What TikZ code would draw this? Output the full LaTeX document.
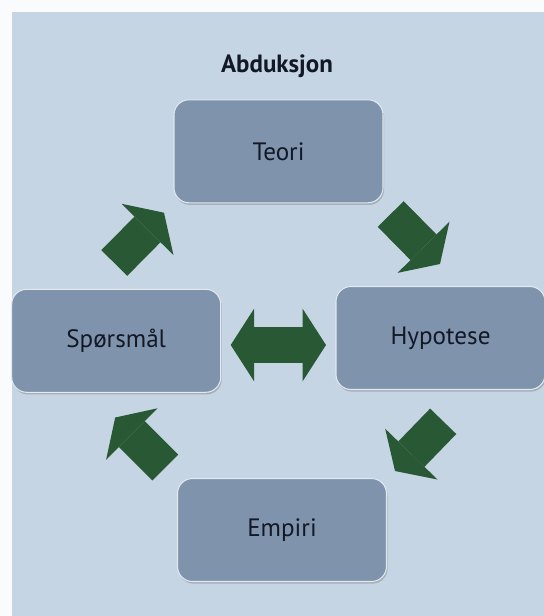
\documentclass[tikz,border=0pt]{standalone}
\usepackage{fontspec}
\setmainfont{PT Sans}
\usetikzlibrary{arrows.meta,shadows}

\definecolor{pagewhite}{RGB}{250,251,252}
\definecolor{paperblue}{RGB}{198,213,228}
\definecolor{boxblue}{RGB}{127,148,172}
\definecolor{boxedge}{RGB}{224,232,240}
\definecolor{arrowgreen}{RGB}{40,88,52}
\definecolor{inkblue}{RGB}{18,24,38}

\tikzset{
  stage/.style={draw=boxedge, line width=0.6pt, fill=boxblue, rounded corners=0.3cm,
    minimum width=4.18cm, minimum height=2.06cm, text=inkblue,
    font=\fontsize{14.3}{16}\selectfont,
    drop shadow={shadow xshift=0.6pt, shadow yshift=-1.2pt, opacity=0.45}},
  flow/.style={draw=arrowgreen, line width=0.73cm,
    -{Triangle[length=0.47cm,width=1.46cm,line width=0pt]}},
  twoway/.style={draw=arrowgreen, line width=0.73cm,
    {Triangle[length=0.47cm,width=1.46cm,line width=0pt]}-{Triangle[length=0.47cm,width=1.46cm,line width=0pt]}}
}

\begin{document}
\begin{tikzpicture}[x=0.02cm,y=-0.02cm]
% Page and the blue panel
\useasboundingbox (0,0) rectangle (544,616);
\fill[pagewhite] (0,0) rectangle (544,616);
\fill[paperblue] (12,11.5) rectangle (544,616);

% Title
\node[anchor=base, font=\fontsize{14.2}{16}\selectfont\bfseries, text=inkblue] (title) at (277,72.7) {Abduksjon};

% The four stages
\node[stage] (teori) at (278.5,151.3) {Teori};
\node[stage] (sporsmal) at (116.2,340.8) {Spørsmål};
\node[stage] (hypotese) at (440.5,338) {Hypotese};
\node[stage] (empiri) at (282,530) {Empiri};

% Ends of the arrows
\coordinate (s2t-tail) at (114.3,263);
\coordinate (s2t-tip) at (164,212.7);
\coordinate (t2h-tail) at (390.7,214);
\coordinate (t2h-tip) at (440,264);
\coordinate (h2e-tail) at (443.2,421.3);
\coordinate (h2e-tip) at (395,471);
\coordinate (e2s-tail) at (165.3,467.5);
\coordinate (e2s-tip) at (115.2,417.5);
\coordinate (sh-left) at (230.7,345);
\coordinate (sh-right) at (326,345);

% Arrows
\draw[flow] (s2t-tail) -- (s2t-tip);
\draw[flow] (t2h-tail) -- (t2h-tip);
\draw[flow] (h2e-tail) -- (h2e-tip);
\draw[flow] (e2s-tail) -- (e2s-tip);
\draw[twoway] (sh-left) -- (sh-right);
\end{tikzpicture}
\end{document}
